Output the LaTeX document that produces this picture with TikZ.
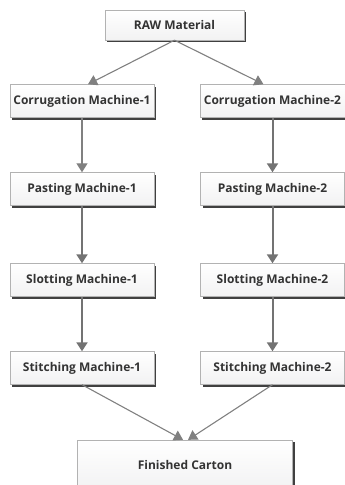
\documentclass[tikz,border=0pt]{standalone}
\usepackage{fontspec}
\setmainfont{Open Sans}
\usetikzlibrary{arrows.meta,positioning,shadows}

\begin{document}
\begin{tikzpicture}[->,>={Triangle[length=9pt,width=11pt]},node distance=88pt,
  main node/.style={draw=gray!60,top color=white,bottom color=blue!3!gray!10,
    drop shadow={shadow xshift=2pt,shadow yshift=-2pt,fill=black!75,opacity=1},
    minimum width=144pt,minimum height=33pt,inner xsep=1pt,text=black!80,
    font=\bfseries\fontsize{12}{14}\selectfont},
  thin flow/.style={draw=gray,line width=1.1pt},
  thick flow/.style={draw=gray!90!black,line width=2pt}]

  \useasboundingbox (0,0) rectangle (345pt,-485pt);

  \node[main node,minimum width=139pt,minimum height=30pt] (1) at (174.5pt,-25pt) {RAW Material};
  \node[main node] (2) at (82pt,-101pt) {Corrugation Machine-1};
  \node[main node,minimum width=145pt] (3) [right of=2,node distance=190.5pt] {Corrugation Machine-2};
  \node[main node] (4) [below of=2] {Pasting Machine-1};
  \node[main node] (5) [below of=3] {Pasting Machine-2};
  \node[main node] (6) [below of=4,node distance=91pt] {Slotting Machine-1};
  \node[main node] (7) [below of=5,node distance=91pt] {Slotting Machine-2};
  \node[main node] (8) [below of=6] {Stitching Machine-1};
  \node[main node] (9) [below of=7] {Stitching Machine-2};
  \node[main node,minimum width=215pt,minimum height=50pt] (10) at (185pt,-465pt) {Finished Carton};

  \path (1.south) edge[thin flow] ([xshift=6pt]2.north)
        (1.south) edge[thin flow] ([xshift=-9pt]3.north)
        (2) edge[thin flow] (4)
        (3) edge[thick flow] (5)
        (4) edge[thick flow] (6)
        (5) edge[thick flow] (7)
        (6) edge[thick flow] (8)
        (7) edge[thick flow] (9)
        (8.south) edge[thin flow] ([xshift=-2pt]10.north)
        (9.south) edge[thin flow] ([xshift=3pt]10.north);

\end{tikzpicture}
\end{document}
